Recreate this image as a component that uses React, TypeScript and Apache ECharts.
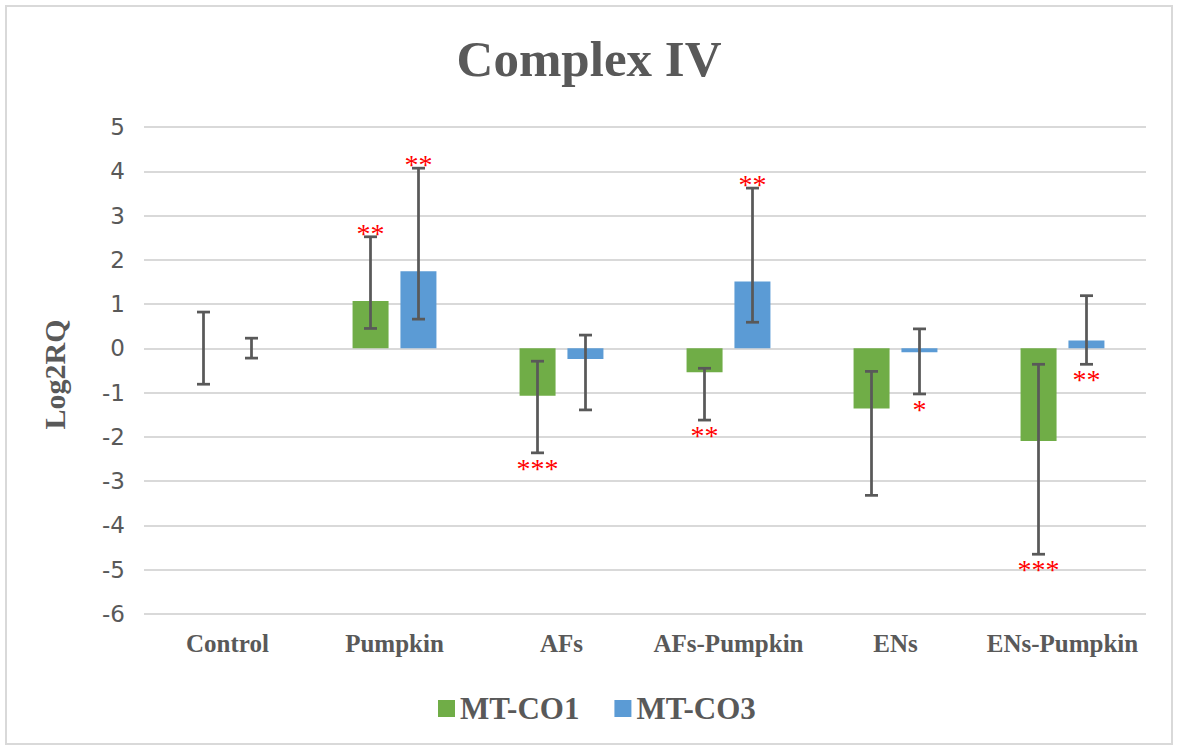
import React, { useEffect, useRef } from "react";
import * as echarts from "echarts";

const categories = ["Control", "Pumpkin", "AFs", "AFs-Pumpkin", "ENs", "ENs-Pumpkin"];
const seriesNames = ["MT-CO1", "MT-CO3"];

const co1Values = [0, 1.07, -1.07, -0.54, -1.36, -2.09];
const co1Upper = [0.82, 2.52, -0.29, -0.45, -0.52, -0.36];
const co1Lower = [-0.81, 0.45, -2.36, -1.62, -3.32, -4.65];
const co1Stars = ["", "**", "***", "**", "", "***"];
const co1StarSide = ["", "top", "bottom", "bottom", "", "bottom"];

const co3Values = [0, 1.74, -0.24, 1.51, -0.09, 0.18];
const co3Upper = [0.23, 4.07, 0.3, 3.62, 0.44, 1.19];
const co3Lower = [-0.22, 0.66, -1.39, 0.59, -1.03, -0.36];
const co3Stars = ["", "**", "", "**", "*", "**"];
const co3StarSide = ["", "top", "", "top", "bottom", "bottom"];

const yTicks = { min: -6, max: 5, interval: 1 };

const GREEN = "#70AD47";
const BLUE = "#5B9BD5";
const TEXT = "#595959";
const GRID = "#D9D9D9";
const SERIF = '"Liberation Serif", "Times New Roman", serif';

const BAR_W = 36;
const BAR_OFFSET = 24;

function makeErrRender(sign: number, stars: string[], sides: string[]) {
  return (params: any, api: any) => {
    const i = api.value(0);
    const top = api.coord([i, api.value(1)]);
    const bot = api.coord([i, api.value(2)]);
    const x = top[0] + sign * BAR_OFFSET;
    const cap = 6.5;
    const ls = { stroke: "#595959", lineWidth: 2.75 };
    const children: any[] = [
      { type: "line", shape: { x1: x, y1: top[1], x2: x, y2: bot[1] }, style: ls },
      { type: "line", shape: { x1: x - cap, y1: top[1], x2: x + cap, y2: top[1] }, style: ls },
      { type: "line", shape: { x1: x - cap, y1: bot[1], x2: x + cap, y2: bot[1] }, style: ls },
    ];
    const s = stars[params.dataIndex];
    if (s) {
      const side = sides[params.dataIndex];
      const y = side === "top" ? top[1] - 3.5 : bot[1] + 15.5;
      children.push({
        type: "text",
        style: {
          text: s,
          x,
          y,
          align: "center",
          verticalAlign: "middle",
          textAlign: "center",
          textVerticalAlign: "middle",
          fill: "#FF0000",
          font: `28px ${SERIF}`,
        },
      });
    }
    return { type: "group", children };
  };
}

export default function App() {
  const ref = useRef<HTMLDivElement>(null);
  useEffect(() => {
    if (!ref.current) return;
    const chart = echarts.init(ref.current, null, { renderer: "svg" });
    chart.setOption({
      animation: false,
      backgroundColor: "#ffffff",
      title: {
        text: "Complex IV",
        left: "center",
        top: 33,
        padding: 0,
        textStyle: { fontFamily: SERIF, fontWeight: "bold", fontSize: 51, color: TEXT },
      },
      graphic: [
        {
          type: "rect",
          shape: { x: 6, y: 6, width: 1166, height: 738 },
          style: { fill: "none", stroke: GRID, lineWidth: 2 },
          silent: true,
        },
      ],
      legend: {
        data: seriesNames,
        left: 433,
        top: 688,
        icon: "rect",
        itemWidth: 17,
        itemHeight: 17,
        itemGap: 35,
        textStyle: { fontFamily: SERIF, fontWeight: "bold", fontSize: 31, color: TEXT },
      },
      grid: { left: 144, top: 127, width: 1002, height: 487, containLabel: false },
      xAxis: {
        type: "category",
        data: categories,
        axisLine: { show: false, onZero: false },
        axisTick: { show: false },
        splitLine: { show: false },
        axisLabel: {
          margin: 17,
          fontFamily: SERIF,
          fontWeight: "bold",
          fontSize: 25,
          color: TEXT,
          interval: 0,
        },
      },
      yAxis: {
        type: "value",
        min: yTicks.min,
        max: yTicks.max,
        interval: yTicks.interval,
        axisLine: { show: false },
        axisTick: { show: false },
        splitLine: { lineStyle: { color: GRID, width: 2 } },
        axisLabel: { margin: 19, fontFamily: '"DejaVu Sans", sans-serif', fontSize: 23, color: TEXT },
        name: "Log2RQ",
        nameLocation: "middle",
        nameGap: 75,
        nameRotate: 90,
        nameTextStyle: { fontFamily: SERIF, fontWeight: "bold", fontSize: 30, color: TEXT, padding: [0, 8, 0, 0] },
      },
      series: [
        {
          name: seriesNames[0],
          type: "bar",
          data: co1Values,
          barWidth: BAR_W,
          barGap: "33%",
          itemStyle: { color: GREEN },
          z: 2,
        },
        {
          name: seriesNames[1],
          type: "bar",
          data: co3Values,
          barWidth: BAR_W,
          barGap: "33%",
          itemStyle: { color: BLUE },
          z: 2,
        },
        {
          name: "err1",
          type: "custom",
          renderItem: makeErrRender(-1, co1Stars, co1StarSide),
          data: categories.map((_, i) => [i, co1Upper[i], co1Lower[i]]),
          encode: { x: 0, y: [1, 2] },
          z: 5,
          silent: true,
        },
        {
          name: "err3",
          type: "custom",
          renderItem: makeErrRender(1, co3Stars, co3StarSide),
          data: categories.map((_, i) => [i, co3Upper[i], co3Lower[i]]),
          encode: { x: 0, y: [1, 2] },
          z: 5,
          silent: true,
        },
      ],
    });
    return () => chart.dispose();
  }, []);
  return (
    <div
      ref={ref}
      style={{ position: "absolute", left: 0, top: 0, width: 1178, height: 749 }}
    />
  );
}
